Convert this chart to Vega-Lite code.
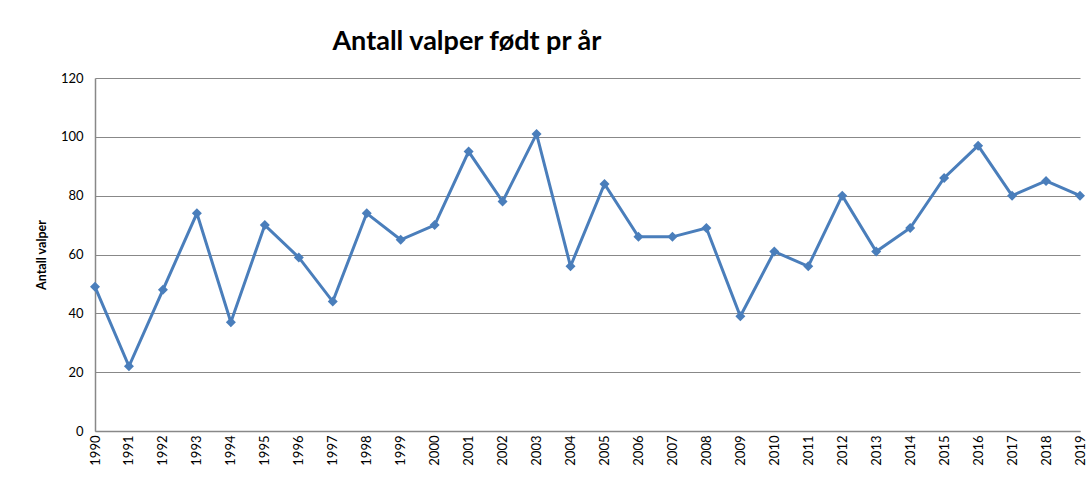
{
  "$schema": "https://vega.github.io/schema/vega-lite/v6.json",
  "width": 985,
  "height": 353,
  "autosize": "none",
  "padding": {"left": 95, "top": 78, "right": 10, "bottom": 49},
  "background": "white",
  "title": {
    "text": "Antall valper født pr år",
    "font": "Lato",
    "fontSize": 27,
    "fontWeight": "bold",
    "color": "#000000",
    "anchor": "start",
    "dx": 297,
    "offset": 16
  },
  "data": {
    "values": [
      {"year": "1990", "valper": 49},
      {"year": "1991", "valper": 22},
      {"year": "1992", "valper": 48},
      {"year": "1993", "valper": 74},
      {"year": "1994", "valper": 37},
      {"year": "1995", "valper": 70},
      {"year": "1996", "valper": 59},
      {"year": "1997", "valper": 44},
      {"year": "1998", "valper": 74},
      {"year": "1999", "valper": 65},
      {"year": "2000", "valper": 70},
      {"year": "2001", "valper": 95},
      {"year": "2002", "valper": 78},
      {"year": "2003", "valper": 101},
      {"year": "2004", "valper": 56},
      {"year": "2005", "valper": 84},
      {"year": "2006", "valper": 66},
      {"year": "2007", "valper": 66},
      {"year": "2008", "valper": 69},
      {"year": "2009", "valper": 39},
      {"year": "2010", "valper": 61},
      {"year": "2011", "valper": 56},
      {"year": "2012", "valper": 80},
      {"year": "2013", "valper": 61},
      {"year": "2014", "valper": 69},
      {"year": "2015", "valper": 86},
      {"year": "2016", "valper": 97},
      {"year": "2017", "valper": 80},
      {"year": "2018", "valper": 85},
      {"year": "2019", "valper": 80}
    ]
  },
  "encoding": {
    "x": {
      "field": "year",
      "type": "ordinal",
      "scale": {"type": "point", "padding": 0},
      "axis": {
        "title": null,
        "labelAngle": 270,
        "labelAlign": "right",
        "labelBaseline": "middle",
        "labelFont": "Lato",
        "labelFontSize": 13,
        "labelColor": "#000000",
        "labelPadding": 4,
        "ticks": false,
        "domainColor": "#888888",
        "domainWidth": 1.5,
        "grid": false
      }
    },
    "y": {
      "field": "valper",
      "type": "quantitative",
      "scale": {"domain": [0, 120], "nice": false},
      "axis": {
        "title": "Antall valper",
        "titleFont": "Lato",
        "titleFontSize": 12.5,
        "titleFontWeight": "bold",
        "titleColor": "#000000",
        "titlePadding": 12,
        "values": [0, 20, 40, 60, 80, 100, 120],
        "labelFont": "Lato",
        "labelFontSize": 13,
        "labelColor": "#000000",
        "labelPadding": 12,
        "ticks": false,
        "domainColor": "#888888",
        "domainWidth": 1.5,
        "grid": true,
        "gridColor": "#888888",
        "gridWidth": 1.2
      }
    }
  },
  "layer": [
    {
      "mark": {"type": "line", "color": "#4a7ebb", "strokeWidth": 3}
    },
    {
      "mark": {"type": "point", "shape": "diamond", "filled": true, "color": "#4a7ebb", "size": 100, "opacity": 1}
    }
  ],
  "config": {
    "view": {"stroke": null}
  }
}
